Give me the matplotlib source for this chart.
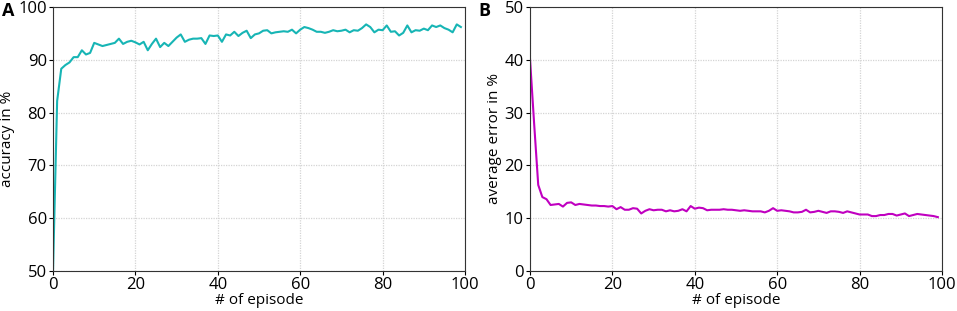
import numpy as np
import matplotlib
matplotlib.use('Agg')
import matplotlib.pyplot as plt

episodes = np.arange(100)

accuracy = [50.0, 82.2, 88.3, 89.0, 89.5, 90.5, 90.5, 91.8, 91.0, 91.3,
            93.2, 92.9, 92.6, 92.8, 93.0, 93.2, 94.0, 93.0, 93.4, 93.6,
            93.3, 92.9, 93.4, 91.8, 93.0, 94.0, 92.4, 93.2, 92.6, 93.4,
            94.2, 94.8, 93.4, 93.8, 94.0, 94.0, 94.1, 93.0, 94.6, 94.5,
            94.6, 93.4, 94.8, 94.6, 95.3, 94.5, 95.1, 95.5, 94.1, 94.8,
            95.0, 95.5, 95.6, 95.0, 95.2, 95.3, 95.4, 95.3, 95.7, 95.0,
            95.7, 96.2, 96.0, 95.7, 95.3, 95.3, 95.1, 95.3, 95.6, 95.4,
            95.5, 95.7, 95.2, 95.6, 95.5, 96.0, 96.7, 96.2, 95.2, 95.7,
            95.6, 96.5, 95.3, 95.4, 94.6, 95.1, 96.5, 95.2, 95.6, 95.5,
            95.9, 95.6, 96.5, 96.2, 96.5, 96.0, 95.7, 95.2, 96.7, 96.2]

avg_error = [40.2, 28.0, 16.3, 14.0, 13.6, 12.5, 12.6, 12.7, 12.2, 12.9,
             13.0, 12.5, 12.7, 12.6, 12.5, 12.4, 12.4, 12.3, 12.3, 12.2,
             12.3, 11.7, 12.1, 11.6, 11.6, 11.9, 11.8, 10.9, 11.4, 11.7,
             11.5, 11.6, 11.6, 11.3, 11.5, 11.3, 11.4, 11.7, 11.3, 12.3,
             11.8, 12.0, 11.9, 11.5, 11.6, 11.6, 11.6, 11.7, 11.6, 11.6,
             11.5, 11.4, 11.5, 11.4, 11.3, 11.3, 11.3, 11.1, 11.4, 11.9,
             11.4, 11.5, 11.4, 11.3, 11.1, 11.1, 11.2, 11.6, 11.1, 11.2,
             11.4, 11.2, 11.0, 11.3, 11.3, 11.2, 11.0, 11.3, 11.1, 10.9,
             10.7, 10.7, 10.7, 10.4, 10.4, 10.6, 10.6, 10.8, 10.8, 10.5,
             10.7, 10.9, 10.4, 10.6, 10.8, 10.7, 10.6, 10.5, 10.4, 10.2]

plt.rcParams['font.family'] = ['Open Sans', 'DejaVu Sans']

fig = plt.figure(figsize=(9.57, 3.11), dpi=100)
axA = fig.add_axes([0.0554, 0.1286, 0.4305, 0.849])
axB = fig.add_axes([0.5538, 0.1286, 0.4305, 0.849])

panels = [(axA, accuracy, '#17b5b5', (50, 100), 'accuracy in %', 'A'),
          (axB, avg_error, '#c000c0', (0, 50), 'average error in %', 'B')]

for ax, vals, col, ylim, ylab, letter in panels:
    ax.plot(episodes, vals, color=col, lw=1.5)
    ax.set_xlim(0, 100)
    ax.set_ylim(*ylim)
    ax.set_xticks([0, 20, 40, 60, 80, 100])
    ax.grid(True, color='#d4d4d4', linestyle=(0, (1, 1)), linewidth=0.9)
    ax.set_xlabel('# of episode', fontsize=11, labelpad=0)
    ax.set_ylabel(ylab, fontsize=11, labelpad=2)
    ax.tick_params(length=3, pad=1.5, labelsize=12)
    for sp in ax.spines.values():
        sp.set_color('#333333')
    ax.text(-0.125, 0.985, letter, transform=ax.transAxes, fontsize=13,
            fontweight='bold', ha='left', va='center')

fig.savefig('out.png', dpi=100)
